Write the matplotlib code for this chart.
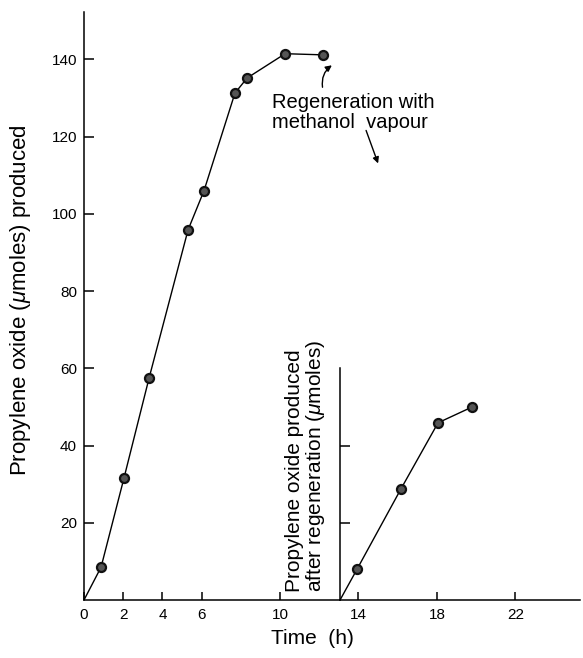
import matplotlib
matplotlib.use("Agg")
import matplotlib.pyplot as plt

plt.rcParams['font.family'] = ['Liberation Sans', 'DejaVu Sans']
plt.rcParams['mathtext.fontset'] = 'custom'
plt.rcParams['mathtext.rm'] = 'Liberation Sans'
plt.rcParams['mathtext.it'] = 'Liberation Sans:italic'

# first run (before regeneration), time in h, propylene oxide in umoles
time_main = [0, 0.87, 2.04, 3.32, 5.31, 6.12, 7.70, 8.32, 10.26, 12.19]
po_main = [0, 8.5, 31.6, 57.5, 95.9, 106.0, 131.3, 135.2, 141.5, 141.2]

# after regeneration with methanol vapour
time_regen = [13.06, 13.93, 16.17, 18.06, 19.80]
po_regen = [0, 8.0, 28.8, 45.9, 50.0]

xticks = [0, 2, 4, 6, 10, 14, 18, 22]
yticks = [20, 40, 60, 80, 100, 120, 140]
inset_yticks = [20, 40]

xmax, ymax = 25.3, 152.3
inset_ymax = 60

ax_pos = [84/583, 58/658, 496/583, 588/658]
fig = plt.figure(figsize=(5.83, 6.58), dpi=100)
ax = fig.add_axes(ax_pos)
ax.set_xlim(0, xmax)
ax.set_ylim(0, ymax)
for s in ['top', 'right']:
    ax.spines[s].set_visible(False)
for s in ['left', 'bottom']:
    ax.spines[s].set_linewidth(1.1)

ax.plot(time_main, po_main, color='black', lw=1.0, marker='o', ms=6.5,
        mfc='#555555', mec='#111111', mew=1.6, markevery=list(range(1, len(time_main))))

ax.set_xticks(xticks)
ax.set_yticks(yticks)
ax.tick_params(axis='both', direction='in', labelsize=11, width=1.1)
ax.tick_params(axis='y', length=7, pad=5)
ax.tick_params(axis='x', length=6, pad=6)

ax.set_ylabel(r'Propylene oxide ($\mu$moles) produced', fontsize=16)
ax.yaxis.set_label_coords(-0.103, 0.51)
fig.text(312/583, 1 - 638/658, 'Time  (h)', fontsize=15, ha='center', va='center')

# annotation
ax.text(9.59, 126.3, 'Regeneration with\nmethanol  vapour', fontsize=14.5,
        ha='left', va='center', linespacing=1.05)
ax.annotate('', xy=(12.76, 138.9), xytext=(12.19, 132.1),
            arrowprops=dict(arrowstyle='-|>', color='black', lw=1.0,
                            mutation_scale=9, connectionstyle='arc3,rad=-0.35'))
ax.annotate('', xy=(15.05, 112.4), xytext=(14.34, 122.3),
            arrowprops=dict(arrowstyle='-|>', color='black', lw=1.0, mutation_scale=9))

# second axis for the run after regeneration, same scale as the main one
x0 = time_regen[0]
ins_pos = [ax_pos[0] + ax_pos[2] * x0 / xmax, ax_pos[1],
           ax_pos[2] * (xmax - x0) / xmax, ax_pos[3] * inset_ymax / ymax]
ins = fig.add_axes(ins_pos)
ins.set_xlim(x0, xmax)
ins.set_ylim(0, inset_ymax)
ins.patch.set_visible(False)
for s in ['top', 'right', 'bottom']:
    ins.spines[s].set_visible(False)
ins.spines['left'].set_linewidth(1.1)
ins.set_xticks([])
ins.set_yticks(inset_yticks)
ins.set_yticklabels([])
ins.tick_params(axis='y', direction='in', length=7, width=1.1)
ins.plot(time_regen, po_regen, color='black', lw=1.0, marker='o', ms=6.5,
         mfc='#555555', mec='#111111', mew=1.6, markevery=list(range(1, len(time_regen))),
         clip_on=False)
fig.text(327/583, 1 - 592/658, 'Propylene oxide produced\n' + r'after regeneration ($\mu$moles)',
         rotation=90, rotation_mode='anchor',
         ha='left', va='bottom', multialignment='left', fontsize=15, linespacing=1.0)

fig.savefig('out.png', dpi=100)
